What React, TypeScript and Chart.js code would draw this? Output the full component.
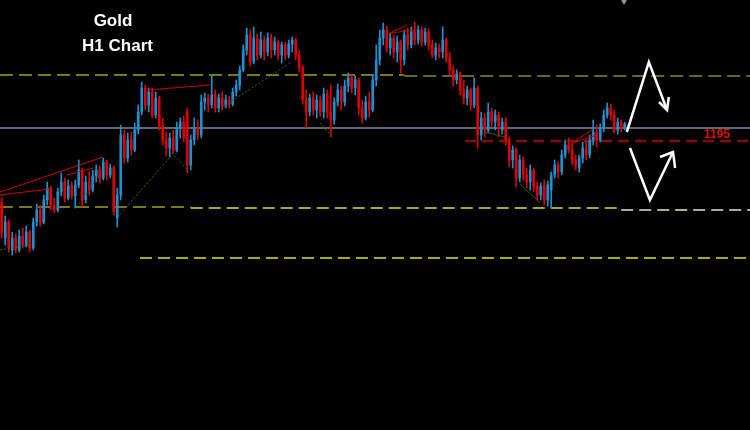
import React, { useEffect, useRef } from "react";
import { Chart, registerables } from "chart.js";

Chart.register(...registerables);

// ---- H1 candles (one per hour) ----
const openPrices = [
  1188.8, 1185.3, 1186.9, 1184.1, 1185.3, 1184.1, 1185.5, 1184.6, 1185.9, 1184.3,
  1186.9, 1188.1, 1186.9, 1189.1, 1190.3, 1188.6, 1188.1, 1189.9, 1190.9, 1189.3,
  1190.5, 1189.5, 1190.6, 1192.1, 1189.1, 1190.9, 1190.1, 1191.5, 1192.1, 1191.3,
  1192.9, 1191.6, 1192.3, 1187.3, 1189.6, 1195.6, 1193.3, 1195.1, 1194.1, 1196.1,
  1197.9, 1200.3, 1198.6, 1199.9, 1197.6, 1199.3, 1196.6, 1195.1, 1194.3, 1195.3,
  1194.1, 1196.3, 1196.9, 1197.9, 1192.6, 1195.1, 1196.3, 1195.6, 1198.9, 1199.3,
  1198.6, 1199.6, 1198.3, 1199.3, 1198.5, 1199.1, 1198.7, 1199.9, 1200.6, 1202.1,
  1204.1, 1205.6, 1202.9, 1205.3, 1203.6, 1205.1, 1203.9, 1205.3, 1204.1, 1204.9,
  1203.6, 1204.6, 1203.6, 1204.7, 1205.1, 1203.6, 1202.3, 1199.1, 1197.9, 1199.3,
  1198.1, 1199.1, 1197.9, 1199.7, 1197.9, 1197.1, 1198.9, 1200.1, 1198.9, 1200.5,
  1201.3, 1200.3, 1201.1, 1198.3, 1197.3, 1198.9, 1198.1, 1201.1, 1203.1, 1205.3,
  1206.1, 1204.3, 1205.3, 1203.9, 1204.9, 1203.1, 1205.6, 1204.6, 1205.9, 1205.1,
  1206.1, 1204.9, 1205.9, 1204.6, 1203.6, 1204.3, 1203.9, 1205.1, 1203.3, 1202.1,
  1201.1, 1201.7, 1200.1, 1199.3, 1200.1, 1198.6, 1200.3, 1195.6, 1197.3, 1196.1,
  1197.9, 1196.9, 1197.6, 1196.1, 1196.9, 1195.1, 1193.1, 1194.1, 1191.3, 1193.1,
  1191.6, 1190.9, 1192.1, 1190.5, 1189.6, 1190.5, 1189.1, 1190.1, 1191.6, 1192.6,
  1191.9, 1193.6, 1194.6, 1194.1, 1193.1, 1192.3, 1193.3, 1194.3, 1193.6, 1195.1,
  1195.9, 1195.1, 1196.3, 1197.6, 1198.3, 1197.6, 1196.1, 1196.9, 1196.4,
];

const highPrices = [
  1189.3, 1187.5, 1187.1, 1185.9, 1185.7, 1186.1, 1186.3, 1186.5, 1186.1, 1187.3,
  1188.7, 1188.6, 1189.6, 1190.9, 1190.5, 1189.3, 1190.3, 1191.8, 1191.3, 1191.1,
  1190.9, 1191.1, 1193.1, 1192.3, 1191.5, 1191.9, 1192.1, 1192.6, 1192.5, 1193.3,
  1193.1, 1192.7, 1192.5, 1190.3, 1196.6, 1196.1, 1195.8, 1195.9, 1196.8, 1198.6,
  1200.9, 1200.6, 1200.3, 1200.3, 1199.9, 1199.5, 1197.3, 1195.9, 1195.8, 1196.1,
  1196.9, 1197.3, 1197.5, 1198.3, 1195.6, 1197.3, 1197.1, 1199.6, 1199.8, 1199.7,
  1201.6, 1200.1, 1199.7, 1199.9, 1199.6, 1199.5, 1200.3, 1201.1, 1202.5, 1204.6,
  1206.3, 1206.1, 1206.4, 1205.7, 1205.9, 1205.5, 1205.8, 1205.7, 1205.4, 1205.1,
  1204.9, 1204.9, 1205.1, 1205.4, 1205.3, 1204.1, 1202.6, 1200.1, 1199.7, 1199.9,
  1199.6, 1199.5, 1200.3, 1200.1, 1200.6, 1199.3, 1200.7, 1200.5, 1201.1, 1201.8,
  1201.7, 1201.5, 1201.3, 1199.1, 1199.5, 1199.9, 1201.6, 1204.6, 1206.1, 1206.8,
  1206.5, 1205.8, 1205.6, 1205.5, 1205.1, 1206.1, 1206.3, 1206.4, 1206.9, 1206.5,
  1206.4, 1206.3, 1206.2, 1205.1, 1204.8, 1204.7, 1206.4, 1205.3, 1203.9, 1202.5,
  1202.1, 1201.9, 1201.1, 1200.5, 1200.3, 1201.3, 1200.5, 1197.9, 1197.8, 1198.8,
  1198.3, 1198.1, 1197.9, 1197.3, 1197.3, 1195.4, 1194.5, 1194.3, 1193.6, 1193.4,
  1192.3, 1192.6, 1192.3, 1190.9, 1190.8, 1191.1, 1191.0, 1191.9, 1193.1, 1192.9,
  1194.1, 1195.1, 1195.3, 1194.8, 1193.6, 1193.6, 1194.9, 1195.1, 1195.6, 1197.1,
  1196.6, 1196.7, 1198.1, 1198.8, 1198.7, 1198.1, 1197.3, 1197.1, 1196.9,
];

const lowPrices = [
  1185.3, 1184.6, 1183.9, 1183.6, 1183.8, 1183.9, 1184.3, 1184.4, 1183.9, 1184.1,
  1186.5, 1186.5, 1186.7, 1188.6, 1188.1, 1187.8, 1187.9, 1189.5, 1188.9, 1189.1,
  1189.2, 1188.3, 1190.3, 1188.4, 1188.8, 1189.6, 1189.9, 1190.9, 1190.8, 1191.1,
  1191.1, 1191.3, 1187.6, 1186.4, 1189.1, 1192.8, 1192.9, 1193.6, 1193.9, 1195.7,
  1197.6, 1198.1, 1197.9, 1197.3, 1197.3, 1196.1, 1194.6, 1193.5, 1193.4, 1193.8,
  1193.9, 1195.3, 1194.9, 1191.8, 1192.1, 1194.6, 1195.1, 1195.3, 1198.1, 1197.9,
  1198.3, 1197.9, 1197.9, 1198.1, 1198.3, 1198.3, 1198.5, 1199.5, 1200.1, 1201.9,
  1203.6, 1202.5, 1202.7, 1203.1, 1203.3, 1203.1, 1203.5, 1203.3, 1203.6, 1203.1,
  1202.8, 1203.1, 1203.3, 1203.9, 1203.1, 1201.9, 1198.7, 1196.3, 1197.5, 1197.6,
  1197.3, 1197.5, 1197.3, 1197.3, 1195.4, 1196.7, 1198.5, 1198.1, 1198.5, 1199.9,
  1199.8, 1199.6, 1197.6, 1196.8, 1197.1, 1197.4, 1197.9, 1200.5, 1202.6, 1204.6,
  1203.9, 1203.6, 1203.3, 1202.9, 1201.8, 1202.6, 1204.1, 1204.3, 1204.6, 1204.7,
  1204.5, 1204.6, 1204.1, 1203.3, 1203.1, 1203.3, 1203.3, 1202.9, 1201.6, 1200.5,
  1200.7, 1199.6, 1198.7, 1198.6, 1198.1, 1198.3, 1194.3, 1195.1, 1195.4, 1195.8,
  1196.4, 1196.1, 1195.4, 1195.7, 1194.6, 1192.4, 1192.3, 1190.4, 1190.9, 1191.1,
  1190.3, 1190.1, 1189.9, 1189.1, 1189.1, 1188.6, 1188.5, 1188.3, 1191.3, 1191.3,
  1191.6, 1193.3, 1193.8, 1192.6, 1192.1, 1191.9, 1192.8, 1193.1, 1193.3, 1194.6,
  1194.4, 1194.9, 1195.9, 1197.3, 1197.1, 1195.8, 1195.7, 1195.9, 1196.1,
];

const closePrices = [
  1185.9, 1186.9, 1184.3, 1185.3, 1184.1, 1185.5, 1184.6, 1185.9, 1184.3, 1186.9,
  1188.1, 1186.9, 1189.1, 1190.3, 1188.6, 1188.1, 1189.9, 1190.9, 1189.3, 1190.5,
  1189.5, 1190.6, 1192.1, 1189.1, 1190.9, 1190.1, 1191.5, 1192.1, 1191.3, 1192.9,
  1191.6, 1192.3, 1187.9, 1189.6, 1195.6, 1193.3, 1195.1, 1194.1, 1196.1, 1197.9,
  1200.3, 1198.6, 1199.9, 1197.6, 1199.3, 1196.6, 1195.1, 1194.3, 1195.3, 1194.1,
  1196.3, 1196.9, 1195.3, 1192.6, 1195.1, 1196.3, 1195.6, 1198.9, 1199.3, 1198.6,
  1199.6, 1198.3, 1199.3, 1198.5, 1199.1, 1198.7, 1199.9, 1200.6, 1202.1, 1204.1,
  1205.6, 1202.9, 1205.3, 1203.6, 1205.1, 1203.9, 1205.3, 1204.1, 1204.9, 1203.6,
  1204.6, 1203.6, 1204.7, 1205.1, 1203.6, 1202.3, 1199.1, 1197.9, 1199.3, 1198.1,
  1199.1, 1197.9, 1199.7, 1197.9, 1197.1, 1198.9, 1200.1, 1198.9, 1200.5, 1201.3,
  1200.3, 1201.1, 1198.3, 1197.3, 1198.9, 1198.1, 1201.1, 1203.1, 1205.3, 1206.1,
  1204.3, 1205.3, 1203.9, 1204.9, 1203.1, 1205.6, 1204.6, 1205.9, 1205.1, 1206.1,
  1204.9, 1205.9, 1204.6, 1203.6, 1204.3, 1203.9, 1205.1, 1203.3, 1202.1, 1201.1,
  1201.7, 1200.1, 1199.3, 1200.1, 1198.6, 1200.3, 1195.6, 1197.3, 1196.1, 1197.9,
  1196.9, 1197.6, 1196.3, 1196.9, 1195.1, 1193.1, 1194.1, 1191.3, 1193.1, 1191.6,
  1190.9, 1192.1, 1190.5, 1189.6, 1190.5, 1189.1, 1190.6, 1191.6, 1192.6, 1191.9,
  1193.6, 1194.6, 1194.1, 1193.1, 1192.6, 1193.3, 1194.3, 1193.6, 1195.1, 1195.9,
  1195.1, 1196.3, 1197.6, 1198.3, 1197.6, 1196.1, 1196.9, 1196.4, 1196.7,
];

// ---- price levels and drawn objects: [hour, price] points ----
type Pt = [number, number];
const oliveLevels: Pt[][] = [
  [[-0.5, 1201.6], [115, 1201.6]],
  [[-0.5, 1188.4], [54, 1188.4]],
];
const darkOliveLevels: Pt[][] = [[[115, 1201.5], [214, 1201.5]]];
const yellowLevels: Pt[][] = [
  [[54, 1188.3], [177, 1188.3]],
  [[39.5, 1183.3], [214, 1183.3]],
];
const paleLevels: Pt[][] = [[[177, 1188.1], [214, 1188.1]]];
const bidLine: Pt[] = [[-0.5, 1196.3], [214, 1196.3]];
const keyLevel = 1195;
const keyLevelLine: Pt[] = [[132.4, keyLevel], [214, keyLevel]];
const keyLabelHour = 204.4;
const keyLabel = "1195";

const greenDotted: Pt[][] = [
  [[-0.5, 1184.1], [8.1, 1184.6]],
  [[21.5, 1188.4], [28.1, 1191.7]],
  [[33.2, 1187.4], [48.1, 1193.4]],
  [[48.6, 1193.8], [53.2, 1192.1]],
  [[60.9, 1197.9], [82.4, 1202.8]],
  [[90.9, 1196.8], [94.4, 1195.4]],
];
const greenSolid: Pt[][] = [
  [[138.1, 1195.9], [143.8, 1195.4]],
  [[148.1, 1190.7], [153.8, 1188.8]],
];
const redTrend: Pt[][] = [
  [[-0.5, 1189.9], [28.9, 1193.4]],
  [[-0.5, 1189.6], [13.8, 1190.2]],
  [[18.6, 1191.6], [26.1, 1192.3]],
  [[41.5, 1200.1], [59.5, 1200.6]],
  [[110.9, 1205.8], [115.8, 1206.6]],
  [[110.9, 1205.8], [118.6, 1206.1]],
  [[162.9, 1194.8], [168.6, 1196.1]],
  [[162.9, 1194.8], [170.1, 1195.6]],
];
const whiteArrows: Pt[][] = [
  [[178.6, 1195.9], [184.9, 1202.9], [190.1, 1198.1]],
  [[187.8, 1198.9], [190.1, 1198.1], [190.6, 1199.4]],
  [[179.5, 1194.3], [185.2, 1189.1], [191.8, 1193.9]],
  [[188.1, 1193.4], [191.8, 1193.9], [192.4, 1192.3]],
];
const shiftMarker: Pt = [177.8, 1209.0];

const titleLines = ["Gold", "H1 Chart"];

const BLUE = "#1e8fd0";
const RED = "#e00000";

function lineSet(points: Pt[], color: string, width: number, dash: number[], order: number) {
  return {
    type: "line" as const,
    data: points.map(([x, y]) => ({ x, y })),
    borderColor: color,
    borderWidth: width,
    borderDash: dash,
    pointRadius: 0,
    fill: false,
    tension: 0,
    order,
  };
}

const textPlugin = {
  id: "chartTexts",
  afterDatasetsDraw(chart: any) {
    const ctx = chart.ctx;
    const xs = chart.scales.x;
    const ys = chart.scales.y;
    ctx.save();
    ctx.textAlign = "center";
    ctx.textBaseline = "alphabetic";
    ctx.fillStyle = "#ffffff";
    ctx.font = "bold 17px 'Liberation Sans', Arial, sans-serif";
    ctx.fillText(titleLines[0], 113, 26);
    ctx.fillText(titleLines[1], 117.5, 51);
    ctx.fillStyle = "#e01010";
    ctx.font = "bold 12px 'Liberation Sans', Arial, sans-serif";
    ctx.fillText(keyLabel, xs.getPixelForValue(keyLabelHour), ys.getPixelForValue(keyLevel) - 3);
    ctx.restore();
  },
};

export default function App() {
  const ref = useRef<HTMLCanvasElement | null>(null);

  useEffect(() => {
    if (!ref.current) return;
    const hours = openPrices.map((_, i) => i);
    const colors = hours.map((i) => (closePrices[i] >= openPrices[i] ? BLUE : RED));

    const datasets: any[] = [];
    oliveLevels.forEach((s) => datasets.push(lineSet(s, "#a3a31c", 1.5, [13, 6], 10)));
    darkOliveLevels.forEach((s) => datasets.push(lineSet(s, "#8c8c1a", 1.5, [13, 6], 10)));
    yellowLevels.forEach((s) => datasets.push(lineSet(s, "#e2e200", 1.5, [12, 6], 10)));
    paleLevels.forEach((s) => datasets.push(lineSet(s, "#e6e6d2", 1.5, [12, 6], 10)));
    datasets.push(lineSet(bidLine, "#7e8a99", 1.5, [], 10));
    datasets.push(lineSet(keyLevelLine, "#8a0a0a", 2.5, [11, 6], 10));

    datasets.push({
      type: "bar",
      data: hours.map((i) => ({ x: i, y: [lowPrices[i], highPrices[i]] })),
      backgroundColor: colors,
      borderWidth: 0,
      barThickness: 1,
      grouped: false,
      order: 5,
    });
    datasets.push({
      type: "bar",
      data: hours.map((i) => ({ x: i, y: [openPrices[i], closePrices[i]] })),
      backgroundColor: colors,
      borderWidth: 0,
      barThickness: 2,
      minBarLength: 1,
      grouped: false,
      order: 4,
    });

    greenDotted.forEach((s) => datasets.push(lineSet(s, "#137a13", 1, [2, 2], 2)));
    greenSolid.forEach((s) => datasets.push(lineSet(s, "#126812", 1, [], 2)));
    redTrend.forEach((s) => datasets.push(lineSet(s, "#d00000", 1, [], 2)));
    whiteArrows.forEach((s) => datasets.push(lineSet(s, "#ffffff", 2.5, [], 1)));
    datasets.push({
      type: "line",
      data: [{ x: shiftMarker[0], y: shiftMarker[1] }],
      showLine: false,
      pointStyle: "triangle",
      rotation: 180,
      pointRadius: 4,
      pointBackgroundColor: "#8899aa",
      pointBorderWidth: 0,
      order: 1,
    });

    const chart = new Chart(ref.current, {
      type: "bar",
      data: { datasets },
      options: {
        animation: false,
        responsive: false,
        devicePixelRatio: 1,
        events: [],
        layout: { padding: 0, autoPadding: false },
        plugins: {
          legend: { display: false },
          tooltip: { enabled: false },
          title: { display: false },
        },
        scales: {
          x: { type: "linear", display: false, min: -0.5, max: 213.8, offset: false },
          y: { type: "linear", display: false, min: 1166.1, max: 1209.1 },
        },
      } as any,
      plugins: [textPlugin],
    });
    return () => chart.destroy();
  }, []);

  return (
    <div style={{ position: "fixed", left: 0, top: 0, width: 750, height: 430, background: "#000" }}>
      <canvas ref={ref} width={750} height={430} style={{ display: "block" }} />
    </div>
  );
}
